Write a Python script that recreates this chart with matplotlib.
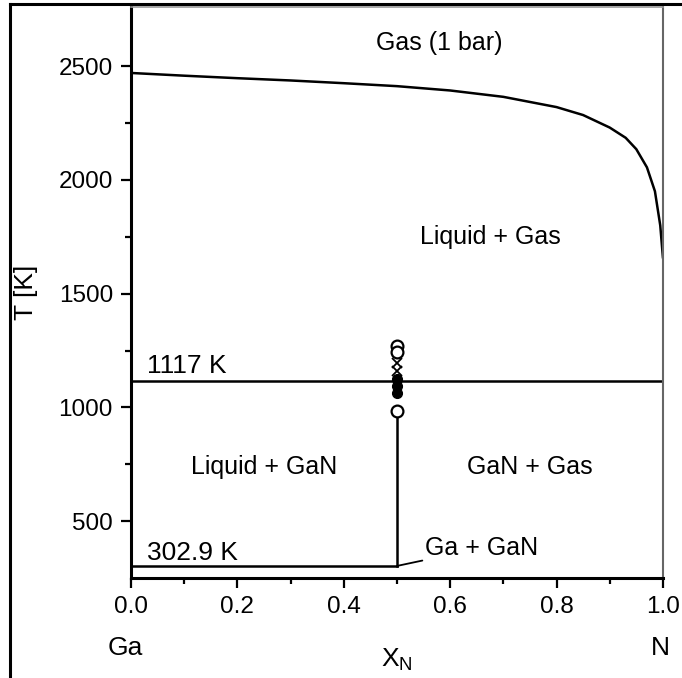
import matplotlib.pyplot as plt
from matplotlib.lines import Line2D

plt.rcParams['font.family'] = ['Liberation Sans', 'DejaVu Sans']

# gas / liquid boundary at 1 bar
x_curve = [0.0, 0.1, 0.2, 0.3, 0.4, 0.5, 0.6, 0.7, 0.8, 0.85, 0.9, 0.93, 0.95, 0.97, 0.985, 0.995, 1.0]
t_curve = [2470, 2458, 2447, 2437, 2425, 2412, 2393, 2365, 2320, 2285, 2230, 2185, 2135, 2055, 1950, 1800, 1660]

t_peritectic = 1117
t_melt = 302.9

# points measured at x = 0.5
t_open = [1270, 1245, 985]
t_cross = [1195, 1160]
t_filled = [1125, 1095, 1065]

fig = plt.figure(figsize=(6.82, 6.78), dpi=100)
ax = fig.add_axes([0.192, 0.1475, 0.780, 0.8422])

ax.plot(x_curve, t_curve, color='black', lw=1.8)
ax.plot([0, 1], [t_peritectic, t_peritectic], color='black', lw=1.8)
ax.plot([0, 0.5], [t_melt, t_melt], color='black', lw=1.8)
ax.plot([0.5, 0.5], [t_melt, 985], color='black', lw=1.8)

ax.plot([0.5] * len(t_open), t_open, 'o', mfc='white', mec='black', ms=8.5, mew=1.6)
ax.plot([0.5] * len(t_cross), t_cross, 'x', color='black', ms=7, mew=1.3)
ax.plot([0.5] * len(t_filled), t_filled, 'o', color='black', ms=7)

fs = 18
ax.text(0.58, 2600, 'Gas (1 bar)', fontsize=fs, ha='center', va='center')
ax.text(0.675, 1750, 'Liquid + Gas', fontsize=fs, ha='center', va='center')
ax.text(0.25, 740, 'Liquid + GaN', fontsize=fs, ha='center', va='center')
ax.text(0.75, 740, 'GaN + Gas', fontsize=fs, ha='center', va='center')
ax.text(0.03, 1128, '1117 K', fontsize=19, ha='left', va='bottom')
ax.text(0.03, 308, '302.9 K', fontsize=19, ha='left', va='bottom')
ax.annotate('Ga + GaN', xy=(0.5, t_melt), xytext=(0.553, 382), fontsize=fs,
            ha='left', va='center',
            arrowprops=dict(arrowstyle='-', color='black', lw=1.3, shrinkA=0, shrinkB=0))

ax.set_xlim(0, 1)
ax.set_ylim(250, 2760)
ax.set_xticks([0.0, 0.2, 0.4, 0.6, 0.8, 1.0])
ax.set_xticklabels(['0.0', '0.2', '0.4', '0.6', '0.8', '1.0'])
ax.set_xticks([0.1, 0.3, 0.5, 0.7, 0.9], minor=True)
ax.set_yticks([500, 1000, 1500, 2000, 2500])
ax.set_yticks([750, 1250, 1750, 2250], minor=True)
ax.tick_params(which='both', direction='out', width=1.6, labelsize=17.5)
ax.tick_params(which='major', length=7, pad=6)
ax.tick_params(which='minor', length=4)

for s in ['left', 'bottom']:
    ax.spines[s].set_linewidth(2.2)
ax.spines['right'].set_linewidth(1.5)
ax.spines['right'].set_color('#666666')
ax.spines['top'].set_linewidth(1.2)
ax.spines['top'].set_color('#999999')

ax.set_ylabel('T [K]', fontsize=19)
ax.yaxis.set_label_coords(-0.175, 0.5)
fig.text(125 / 682, 1 - 648 / 678, 'Ga', fontsize=19, ha='center', va='center')
fig.text(660 / 682, 1 - 648 / 678, 'N', fontsize=19, ha='center', va='center')
fig.text(397 / 682, 1 - 660 / 678, r'X$_{\mathregular{N}}$', fontsize=19, ha='center', va='center')

# outer frame of the figure panel
fx = 10 / 682
fy = 1 - 4 / 678
fig.add_artist(Line2D([fx, 1], [fy, fy], transform=fig.transFigure, color='black', lw=2.2))
fig.add_artist(Line2D([fx, fx], [0, fy], transform=fig.transFigure, color='black', lw=2.2))

fig.savefig('out.png', dpi=100)
